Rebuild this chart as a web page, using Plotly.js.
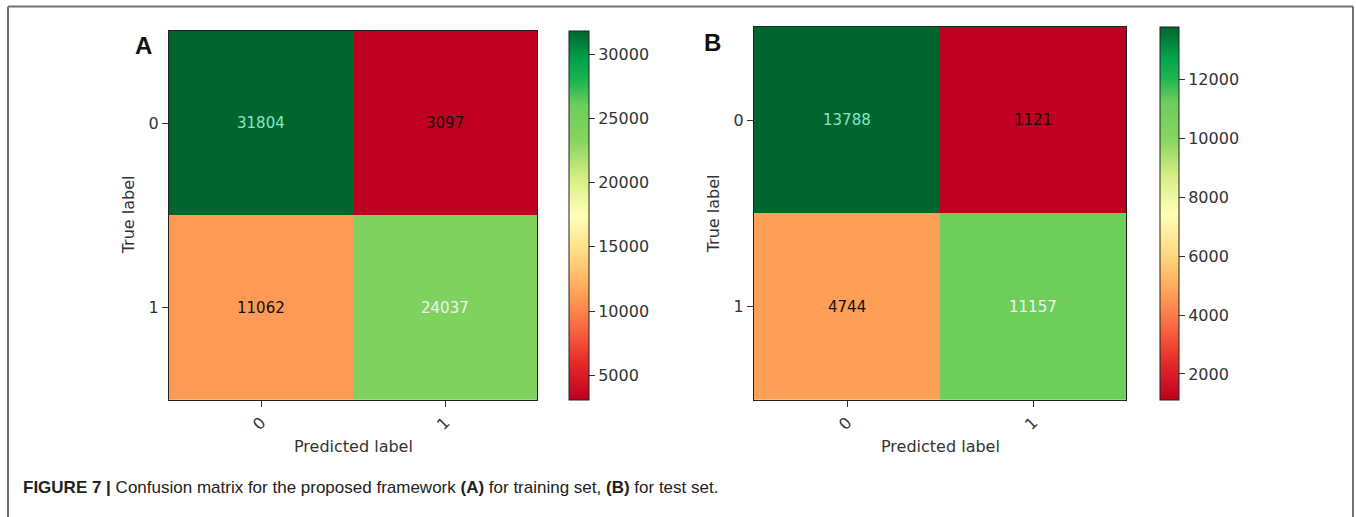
<!DOCTYPE html>
<html>
<head>
<meta charset="utf-8">
<script src="https://cdn.plot.ly/plotly-3.0.1.min.js"></script>
<style>html,body{margin:0;padding:0;background:#fff}#chart{width:1356px;height:517px}</style>
</head>
<body>
<div id="chart"></div>
<script>
// ---- data ----
const labels = ['0', '1'];
const trainMatrix = [[31804, 3097], [11062, 24037]];
const testMatrix = [[13788, 1121], [4744, 11157]];
const trainTicks = [5000, 10000, 15000, 20000, 25000, 30000];
const testTicks = [2000, 4000, 6000, 8000, 10000, 12000];
const panelLetters = ['A', 'B'];
const captionBold = 'FIGURE 7 |';
const captionText = ' Confusion matrix for the proposed framework <b>(A)</b> for training set, <b>(B)</b> for test set.';

// ---- style ----
const W = 1356, H = 517;
const px = v => v / W;
const py = v => 1 - v / H;
const cs = [
  [0.0, '#bf0020'], [0.1, '#e42a2a'], [0.2, '#fb6a42'], [0.3, '#ffa85a'],
  [0.4, '#ffdc84'], [0.5, '#ffffb8'], [0.6, '#d6ef84'], [0.7, '#88d460'],
  [0.8, '#6ccd5c'], [0.86, '#20b650'], [0.92, '#00a44c'], [1.0, '#00652f']
];
const font = 'DejaVu Sans, sans-serif';

const panels = [
  {m: trainMatrix, ticks: trainTicks, x0: 169, x1: 537, y0: 30.7, y1: 400, cbx: 569, cbw: 20, letterX: 143, letterY: 45},
  {m: testMatrix, ticks: testTicks, x0: 754, x1: 1126, y0: 26.7, y1: 400, cbx: 1160, cbw: 19, letterX: 713, letterY: 42}
];

const data = [];
const layout = {
  width: W, height: H,
  margin: {l: 0, r: 0, t: 0, b: 0, autoexpand: false},
  paper_bgcolor: '#ffffff', plot_bgcolor: '#ffffff',
  showlegend: false,
  font: {family: font, size: 16, color: '#222'},
  annotations: [], shapes: []
};

panels.forEach((p, i) => {
  const xa = i === 0 ? 'x' : 'x2';
  const ya = i === 0 ? 'y' : 'y2';
  const flat = p.m.flat();
  const zmin = Math.min(...flat), zmax = Math.max(...flat);
  const dom = [py(p.y1), py(p.y0)];
  data.push({
    type: 'heatmap',
    x: [0, 1], y: [0, 1], z: p.m,
    xaxis: xa, yaxis: ya,
    colorscale: cs, zmin: zmin, zmax: zmax,
    hoverinfo: 'skip',
    colorbar: {
      x: px(p.cbx), xanchor: 'left', xref: 'paper',
      y: (dom[0] + dom[1]) / 2, yanchor: 'middle', yref: 'paper',
      len: dom[1] - dom[0], lenmode: 'fraction',
      thickness: p.cbw, thicknessmode: 'pixels',
      outlinewidth: 1, outlinecolor: '#222',
      tickvals: p.ticks, ticktext: p.ticks.map(String),
      ticks: 'outside', ticklen: 6, tickcolor: '#333', tickwidth: 1,
      tickfont: {family: font, size: 16, color: '#333'},
      xpad: 0, ypad: 0
    }
  });
  const axX = {
    domain: [px(p.x0), px(p.x1)], anchor: ya,
    range: [-0.5, 1.5], tickvals: [0, 1], ticktext: labels,
    tickangle: -45, ticks: 'outside', ticklen: 6, tickcolor: '#333',
    showline: true, mirror: true, linecolor: '#222', linewidth: 1,
    showgrid: false, zeroline: false, fixedrange: true,
    tickfont: {family: font, size: 16, color: '#333'}
  };
  const axY = {
    domain: dom, anchor: xa,
    range: [1.5, -0.5], tickvals: [0, 1], ticktext: labels,
    ticks: 'outside', ticklen: 6, tickcolor: '#333',
    showline: true, mirror: true, linecolor: '#222', linewidth: 1,
    showgrid: false, zeroline: false, fixedrange: true,
    tickfont: {family: font, size: 16, color: '#333'}
  };
  layout[i === 0 ? 'xaxis' : 'xaxis2'] = axX;
  layout[i === 0 ? 'yaxis' : 'yaxis2'] = axY;

  // cell texts
  p.m.forEach((row, r) => row.forEach((v, c) => {
    const t = (v - zmin) / (zmax - zmin);
    let col = '#111';
    if (t > 0.95) col = '#86e6c6';
    else if (t > 0.6) col = '#f2f2f2';
    layout.annotations.push({
      xref: xa, yref: ya, x: c, y: r, text: String(v), showarrow: false,
      font: {family: font, size: 15, color: col}
    });
  }));
  // axis titles
  layout.annotations.push({
    xref: 'paper', yref: 'paper', x: px((p.x0 + p.x1) / 2), y: py(446),
    text: 'Predicted label', showarrow: false, xanchor: 'center', yanchor: 'middle',
    font: {family: font, size: 16, color: '#333'}
  });
  layout.annotations.push({
    xref: 'paper', yref: 'paper', x: px(p.x0 - 41), y: py((p.y0 + p.y1) / 2),
    text: 'True label', showarrow: false, textangle: -90, xanchor: 'center', yanchor: 'middle',
    font: {family: font, size: 16, color: '#333'}
  });
  // panel letter
  layout.annotations.push({
    xref: 'paper', yref: 'paper', x: px(p.letterX), y: py(p.letterY),
    text: '<b>' + panelLetters[i] + '</b>', showarrow: false,
    xanchor: 'center', yanchor: 'middle',
    font: {family: 'Liberation Sans, Arial, sans-serif', size: 24, color: '#111'}
  });
});

// caption
layout.annotations.push({
  xref: 'paper', yref: 'paper', x: px(21), y: py(487), xanchor: 'left', yanchor: 'middle',
  text: '<b>' + captionBold + '</b>' + captionText, showarrow: false,
  font: {family: 'Liberation Sans, Arial, sans-serif', size: 17, color: '#222'}
});

// frame
const fr = {type: 'line', xref: 'paper', yref: 'paper', line: {color: '#707070', width: 2}};
layout.shapes.push(Object.assign({}, fr, {x0: px(8), x1: px(1353), y0: py(6.5), y1: py(6.5)}));
layout.shapes.push(Object.assign({}, fr, {x0: px(8), x1: px(8), y0: py(6.5), y1: 0}));
layout.shapes.push(Object.assign({}, fr, {x0: px(1353), x1: px(1353), y0: py(6.5), y1: 0}));

Plotly.newPlot('chart', data, layout, {displayModeBar: false, staticPlot: true});
</script>
</body>
</html>
